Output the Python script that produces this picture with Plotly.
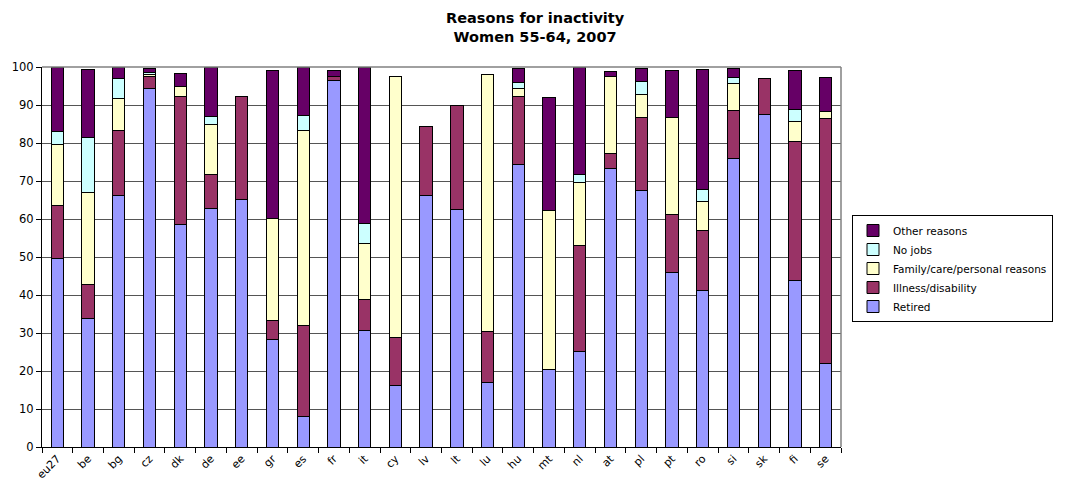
import plotly.graph_objects as go

countries = ["eu27", "be", "bg", "cz", "dk", "de", "ee", "gr", "es", "fr", "it", "cy", "lv",
             "lt", "lu", "hu", "mt", "nl", "at", "pl", "pt", "ro", "si", "sk", "fi", "se"]

retired = [49.7, 33.9, 66.1, 94.4, 58.6, 62.8, 65.1, 28.2, 8.1, 96.4, 30.6, 16.2, 66.1,
           62.5, 17.0, 74.4, 20.4, 25.1, 73.2, 67.5, 46.0, 41.3, 76.0, 87.5, 43.8, 21.9]
illness = [13.8, 8.9, 17.1, 3.0, 33.7, 8.9, 27.2, 5.0, 23.9, 1.1, 8.1, 12.7, 18.2,
           27.4, 13.4, 17.9, 0.0, 27.8, 4.1, 19.3, 15.2, 15.7, 12.5, 9.5, 36.7, 64.6]
family = [16.1, 24.2, 8.6, 0.6, 2.6, 13.2, 0.0, 27.0, 51.3, 0.0, 14.8, 68.7, 0.0,
          0.0, 67.5, 2.1, 41.9, 16.7, 20.3, 6.0, 25.5, 7.5, 7.2, 0.0, 5.2, 1.7]
no_jobs = [3.3, 14.4, 5.1, 0.6, 0.0, 2.0, 0.0, 0.0, 4.0, 0.0, 5.4, 0.0, 0.0,
           0.0, 0.0, 1.5, 0.0, 2.2, 0.0, 3.4, 0.0, 3.3, 1.5, 0.0, 3.0, 0.0]
other = [17.1, 18.0, 3.1, 1.1, 3.4, 13.0, 0.0, 39.0, 12.7, 1.5, 41.1, 0.0, 0.0,
         0.0, 0.0, 3.8, 29.6, 28.2, 1.3, 3.5, 12.4, 31.6, 2.5, 0.0, 10.5, 9.1]

title_lines = ["Reasons for inactivity", "Women 55-64, 2007"]

series = [
    ("Retired", retired, "#9999FF"),
    ("Illness/disability", illness, "#993366"),
    ("Family/care/personal reasons", family, "#FFFFCC"),
    ("No jobs", no_jobs, "#CCFFFF"),
    ("Other reasons", other, "#660066"),
]

FONT = "DejaVu Sans, Arial, sans-serif"

fig = go.Figure()
for name, vals, col in series:
    fig.add_trace(go.Bar(
        x=countries, y=vals, name=name,
        marker=dict(color=col, line=dict(color="#000000", width=1)),
    ))

# the page body has an 8px margin, so figure coordinates are screen minus 8
OFF = 8
W, H = 1070 - OFF, 488 - OFF
L, R, T, B = 42 - OFF, 841 - OFF, 67 - OFF, 447 - OFF

fig.update_layout(
    width=W, height=H,
    barmode="stack",
    bargap=0.6,
    paper_bgcolor="white",
    plot_bgcolor="white",
    margin=dict(l=L, r=W - R, t=T, b=H - B, pad=0, autoexpand=False),
    font=dict(family=FONT, size=11, color="#000000"),
    legend=dict(
        traceorder="reversed",
        x=(852 - OFF - L) / (R - L), xanchor="left",
        y=(B - (215 - OFF)) / (B - T), yanchor="top",
        bordercolor="#000000", borderwidth=1,
        bgcolor="white",
        font=dict(size=10.5, family=FONT),
        itemwidth=30,
        tracegroupgap=0,
    ),
    xaxis=dict(
        type="category",
        tickangle=-45,
        ticks="outside", ticklen=5, tickcolor="#000000",
        tickson="boundaries",
        showline=True, linecolor="#000000", linewidth=1,
        showgrid=False,
        tickfont=dict(size=11, family=FONT),
        automargin=False,
    ),
    yaxis=dict(
        range=[0, 100],
        tick0=0, dtick=10,
        ticks="outside", ticklen=5, tickcolor="#000000",
        showline=True, linecolor="#000000", linewidth=1,
        showgrid=True, gridcolor="#555555", gridwidth=1,
        zeroline=False,
        tickfont=dict(size=11.5, family=FONT),
        automargin=False,
    ),
    shapes=[
        dict(type="line", xref="paper", yref="paper", x0=0, x1=1, y0=1, y1=1,
             line=dict(color="#808080", width=1.5)),
        dict(type="line", xref="paper", yref="paper", x0=1, x1=1, y0=0, y1=1,
             line=dict(color="#808080", width=1.5)),
    ],
    annotations=[
        dict(
            text="<b>" + "</b><br><b>".join(title_lines) + "</b>",
            xref="paper", yref="paper",
            x=(535 - OFF - L) / (R - L), xanchor="center",
            y=(B + 0) / (B - T), yanchor="top",
            showarrow=False, align="center",
            font=dict(size=14.5, family=FONT, color="#000000"),
        )
    ],
)

fig.write_html("out.html")
